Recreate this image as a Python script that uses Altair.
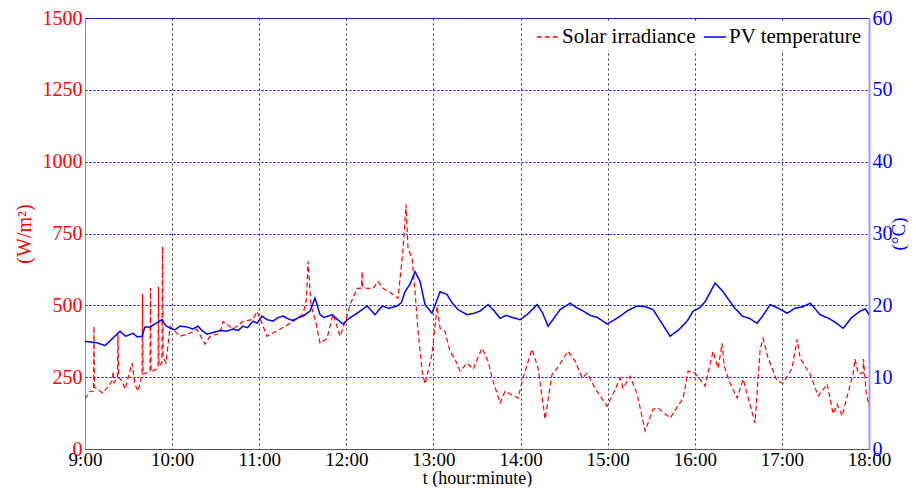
import altair as alt
import pandas as pd

# minutes after 9:00 and solar irradiance (W/m^2)
irr_t = [0, 3.4, 5.9, 6.2, 6.5, 8.3, 12.4, 17.2, 19.0, 19.3, 20.0, 22.3, 22.7, 23.2, 25.5, 27.6,
         32.4, 34.4, 36.5, 39.3, 39.6, 40.0, 44.8, 45.1, 45.5, 50.3, 50.6, 51.0, 53.0, 53.4, 53.8,
         55.8, 58.6, 65.4, 72.3, 77.1, 82.6, 86.1, 93.0, 95.1, 102.0, 108.8, 115.7, 118.4, 121.9,
         125.3, 134.3, 143.3, 150.2, 152.5, 153.6, 155.7, 158.9, 161.9, 166.7, 170.9, 175.7, 180.5,
         182.6, 187.4, 190.5, 190.8, 191.2, 194.3, 198.4, 201.8, 205.3, 212.2, 215.6, 219.1, 221.1,
         222.5, 225.3, 227.3, 229.4, 232.2, 234.2, 236.3, 239.0, 242.5, 244.6, 248.0, 251.4, 254.9,
         258.3, 263.2, 267.3, 273.5, 277.6, 281.1, 285.9, 289.3, 298.3, 301.7, 307.9, 312.1, 316.9,
         321.7, 325.2, 332.7, 337.6, 342.4, 345.8, 351.3, 359.6, 363.7, 368.6, 370.6, 375.5, 380.3,
         385.8, 391.3, 394.7, 403.0, 412.0, 415.4, 420.2, 427.1, 432.6, 436.1, 438.8, 440.2, 444.3,
         449.2, 453.3, 461.5, 465.0, 467.1, 470.5, 476.7, 480.8, 487.0, 490.5, 492.6, 499.5, 505.0,
         511.2, 515.3, 518.0, 521.5, 529.1, 530.4, 532.5, 535.9, 536.2, 538.0, 540.0]
irr_v = [174, 201, 201, 427, 215, 208, 194, 226, 240, 270, 230, 250, 403, 250, 236, 208,
         299, 226, 201, 260, 540, 260, 270, 560, 270, 280, 565, 290, 300, 705, 320,
         300, 427, 392, 403, 417, 365, 392, 403, 444, 417, 444, 451, 479, 438,
         392, 417, 444, 469, 520, 653, 500, 444, 368, 385, 469, 392, 462,
         503, 559, 560, 618, 565, 559, 559, 583, 559, 538, 524, 698, 851,
         698, 663, 549, 410, 271, 226, 271, 330, 497, 420, 410, 340, 312,
         271, 299, 278, 351, 306, 236, 160, 201, 177, 247, 347, 281, 104,
         260, 281, 340, 306, 247, 264, 212, 149, 191, 247, 212, 253, 191,
         63, 139, 142, 108, 177, 271, 264, 219, 340, 281, 368, 290, 229,
         177, 243, 90, 347, 385, 316, 236, 229, 281, 382, 316, 260, 184,
         226, 122, 156, 115, 264, 313, 264, 264, 313, 200, 149]

# minutes after 9:00 and PV temperature (deg C)
temp_t = [0, 3.4, 8.0, 13.8, 18.5, 24.1, 28.0, 33.1, 36.0, 39.3, 41.3, 45.0, 49.6, 53.0, 55.5,
          58.6, 62.0, 65.4, 70.0, 74.4, 77.8, 80.5, 84.0, 88.0, 93.0, 97.5,
          102.0, 105.5, 108.8, 112.0, 115.7, 118.5, 121.9, 125.5, 129.5, 133.0, 136.4, 140.0,
          143.3, 147.0, 150.2, 155.0, 158.4, 161.9, 164.5, 167.4,
          170.2, 174.0, 177.7, 182.0, 187.4, 194.3, 199.8, 204.6, 209.0, 214.9, 218.0, 220.4,
          224.0, 227.3, 230.8, 234.2, 239.0,
          244.6, 249.4, 253.0, 257.0, 263.2, 268.0, 272.1, 277.6, 281.5, 285.9, 290.0, 294.5,
          299.7, 305.0, 311.4, 315.0, 319.0, 323.0, 327.2, 334.1,
          338.5, 343.1, 348.0, 353.0, 359.6, 364.0, 368.6, 374.0, 380.3, 386.0, 391.3, 397.0,
          403.0, 409.0, 414.7, 418.9, 423.0, 427.1, 434.0, 439.5, 446.4,
          452.6, 457.5, 462.9, 467.0, 471.9, 477.5, 483.6, 489.0, 494.5, 499.5, 506.3, 512.0,
          517.0, 522.2, 528.0, 533.9, 537.5, 540.0]
temp_v = [15.0, 14.9, 14.8, 14.4, 15.3, 16.4, 15.7, 16.1, 15.6, 15.7, 17.0, 17.0, 17.6, 18.0, 17.2,
          16.8, 16.6, 17.1, 17.0, 16.7, 17.1, 16.5, 16.0, 16.2, 16.5, 16.4,
          16.7, 16.5, 17.1, 16.9, 17.8, 17.5, 18.5, 18.0, 17.8, 18.3, 18.5, 18.1,
          17.9, 18.3, 18.5, 19.2, 21.0, 18.7, 18.3, 18.5,
          18.7, 18.0, 17.4, 18.2, 18.9, 19.9, 18.7, 19.9, 19.6, 19.9, 20.4, 21.9,
          23.0, 24.7, 23.3, 20.1, 18.9,
          21.9, 21.5, 20.3, 19.4, 18.7, 18.9, 19.2, 20.1, 19.3, 18.2, 18.6, 18.3,
          18.0, 18.8, 20.1, 19.0, 17.1, 18.2, 19.4, 20.3,
          19.7, 19.2, 18.6, 18.3, 17.4, 17.9, 18.5, 19.3, 19.9, 19.8, 19.4, 17.6,
          15.7, 16.6, 17.8, 19.2, 19.6, 20.5, 23.1, 21.9, 19.9,
          18.5, 18.2, 17.5, 18.6, 20.1, 19.6, 18.9, 19.6, 19.8, 20.3, 18.7, 18.2,
          17.6, 16.8, 18.3, 19.2, 19.5, 18.7]

hour_ticks = list(range(0, 541, 60))
irr_ticks = [0, 250, 500, 750, 1000, 1250, 1500]
temp_ticks = [0, 10, 20, 30, 40, 50, 60]
series_names = ["Solar irradiance", "PV temperature"]

FONT = "Liberation Serif"
PLOT_H = 431

irr = pd.DataFrame({"t": irr_t, "v": irr_v, "series": series_names[0]})
tmp = pd.DataFrame({"t": temp_t, "v": temp_v, "series": series_names[1]})

color_scale = alt.Scale(domain=series_names, range=["#ff0000", "#0000ff"])
dash_scale = alt.Scale(domain=series_names, range=[[5, 3], [1, 0]])
legend = alt.Legend(title=None, orient="top-right", direction="horizontal",
                    symbolType="stroke", symbolSize=500, symbolStrokeWidth=1.5,
                    labelFont=FONT, labelFontSize=21, labelColor="#000",
                    fillColor="white", padding=3, offset=4, columnPadding=4,
                    symbolOffset=0, labelOffset=2, labelLimit=300)

axis_font = dict(labelFont=FONT, labelFontSize=20, titleFont=FONT, titleFontSize=20,
                 titleFontWeight="normal", labelOverlap=False, labelFlush=False)

x_enc = alt.X("t:Q", scale=alt.Scale(domain=[0, 540], nice=False, zero=False),
              axis=alt.Axis(values=hour_ticks,
                            labelExpr="floor(datum.value/60)+9 + ':00'",
                            title="t (hour:minute)", titlePadding=0,
                            labelPadding=1, ticks=False,
                            grid=True, gridColor="#333", gridDash=[2, 3],
                            gridWidth=1, domainColor="#555",
                            labelColor="#000", titleColor="#000",
                            labelFont=FONT, labelFontSize=19, titleFont=FONT,
                            titleFontSize=18, titleFontWeight="normal",
                            labelOverlap=False, labelFlush=False))

left = alt.Chart(irr).mark_line(strokeWidth=1.2, clip=True).encode(
    x=x_enc,
    y=alt.Y("v:Q", scale=alt.Scale(domain=[0, 1500], nice=False),
            axis=alt.Axis(values=irr_ticks, orient="left", title="(W/m²)", format="d",
                          titleColor="#ff0000", labelColor="#ff0000",
                          titlePadding=8, labelPadding=3, ticks=False,
                          grid=True, gridColor="#0000ff", gridDash=[2, 2],
                          gridWidth=1, domainColor="#e07070", **axis_font)),
    color=alt.Color("series:N", scale=color_scale, legend=legend),
    strokeDash=alt.StrokeDash("series:N", scale=dash_scale, legend=legend),
)

right = alt.Chart(tmp).mark_line(strokeWidth=1.5, clip=True).encode(
    x=x_enc,
    y=alt.Y("v:Q", scale=alt.Scale(domain=[0, 60], nice=False),
            axis=alt.Axis(values=temp_ticks, orient="right", title="(°C)", format="d",
                          titleColor="#0000ff", labelColor="#0000ff", titleAngle=270,
                          titleX=29, titleY=PLOT_H / 2, titleAlign="center",
                          titleBaseline="middle",
                          labelPadding=3, ticks=False,
                          grid=False, domainColor="#9999ff", domainWidth=2,
                          labelFont=FONT, labelFontSize=20, titleFont=FONT,
                          titleFontSize=19, titleFontWeight="normal",
                          labelOverlap=False, labelFlush=False)),
    color=alt.Color("series:N", scale=color_scale, legend=legend),
    strokeDash=alt.StrokeDash("series:N", scale=dash_scale, legend=legend),
)

chart = alt.layer(left, right).resolve_scale(y="independent").properties(
    width=784, height=PLOT_H,
    background="white",
    autosize=alt.AutoSizeParams(type="none"),
    padding={"left": 77, "top": 10, "right": 39, "bottom": 38},
).configure_view(stroke="#444", strokeWidth=1)

chart.save("out.html", embed_options={"renderer": "svg", "actions": False})
